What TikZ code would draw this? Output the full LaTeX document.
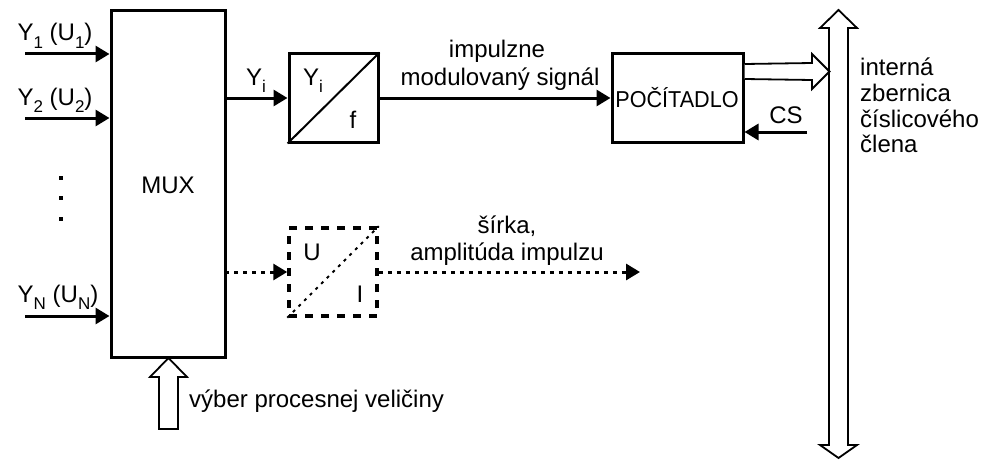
\documentclass[tikz,border=0pt]{standalone}
\usepackage{fontspec}
\setmainfont{Liberation Sans}
\usetikzlibrary{arrows.meta}
\newcommand{\sbs}[1]{\raisebox{-0.3em}{\fontsize{17}{17}\selectfont #1}}
\begin{document}
\begin{tikzpicture}[x=1pt,y=-1pt,
  lbl/.style={font=\fontsize{24}{26}\selectfont, inner sep=0pt, anchor=base},
  block/.style={draw, line width=3pt, inner sep=0pt, fill=white},
  sig/.style={line width=3pt, -{Triangle[length=14pt,width=16pt]}},
  dotsig/.style={line width=3pt, dash pattern=on 4pt off 5pt, -{Triangle[length=14pt,width=16pt]}},
  hollow/.style={draw, line width=1.8pt, fill=white, line join=miter}]

\useasboundingbox (0,0) rectangle (984,460);

% main blocks
\node[block, minimum width=114pt, minimum height=346pt] (mux) at (168,184) {};
\node[block, minimum width=89pt, minimum height=88pt] (conv) at (333.5,98) {};
\node[block, minimum width=131pt, minimum height=88pt] (cnt) at (677.5,98) {};
\node[draw, line width=3.5pt, dash pattern=on 8pt off 8pt, inner sep=0pt,
      minimum width=88pt, minimum height=88pt] (ui) at (333,272) {};

% diagonals inside converters
\draw[line width=2pt] (conv.south west) -- (conv.north east);
\draw[line width=2pt, dash pattern=on 3pt off 5pt] (ui.south west) -- (ui.north east);

% inputs of the multiplexer
\coordinate (in1) at (25,54);
\coordinate (in2) at (25,118);
\coordinate (inN) at (25,316);
\draw[sig] (in1) -- (in1 -| mux.west);
\draw[sig] (in2) -- (in2 -| mux.west);
\draw[sig] (inN) -- (inN -| mux.west);
\node[lbl] (t1) at (55,41) {Y\sbs{1} (U\sbs{1})};
\node[lbl] (t2) at (55,105) {Y\sbs{2} (U\sbs{2})};
\node[lbl] (tN) at (58,302) {Y\sbs{N} (U\sbs{N})};
\foreach \yy [count=\k] in {178,198,219}
  \fill (58.5,\yy-2) rectangle (62.5,\yy+2);

\node[lbl] (tmux) at (168,193) {MUX};

% signal path
\coordinate (yi) at (225,98);
\draw[sig] (yi) -- (conv.west);
\node[lbl] (tyi) at (256,85) {Y\sbs{i}};
\node[lbl] (tyi2) at (313,85) {Y\sbs{i}};
\node[lbl] (tf) at (353,128) {f};
\draw[sig] (conv.east) -- (cnt.west);
\node[lbl] (timp1) at (497,58) {impulzne};
\node[lbl] (timp2) at (500,85) {modulovaný signál};

\node[lbl, font=\fontsize{23}{25}\selectfont] (tcnt) at (677,107) {\scalebox{0.94}[1]{POČÍTADLO}};

\coordinate (cs) at (807,132);
\draw[sig] (cs) -- (cs -| cnt.east);
\node[lbl] (tcs) at (786,123) {CS};

% dotted path through the U/I converter
\coordinate (ud) at (225,272);
\coordinate (uout) at (640,272);
\draw[dotsig] (ud) -- (ui.west);
\draw[dotsig] (ui.east) -- (uout);
\node[lbl] (tU) at (312,260) {U};
\node[lbl] (tI) at (360,302) {I};
\node[lbl] (ts1) at (507,233) {šírka,};
\node[lbl] (ts2) at (507,260) {amplitúda impulzu};

% internal bus (double hollow arrow)
\draw[hollow] (838.5,10) -- (857,28) -- (848,28) -- (848,445) -- (857,445)
  -- (838.5,458) -- (820,445) -- (829,445) -- (829,28) -- (820,28) -- cycle;
\node[lbl, anchor=base west] (b1) at (860,75) {interná};
\node[lbl, anchor=base west] (b2) at (860,101) {zbernica};
\node[lbl, anchor=base west] (b3) at (860,127) {číslicového};
\node[lbl, anchor=base west] (b4) at (860,152) {člena};

% counter output to the bus
\draw[hollow] ([yshift=-1pt]cnt.east |- 0,63) -- (812,63) -- (812,54) -- (829.5,71.5)
  -- (812,89) -- (812,80) -- ([yshift=1pt]cnt.east |- 0,80);

% selection input of the multiplexer
\draw[hollow] (168.5,358) -- (187,377) -- (178,377) -- (178,429) -- (159,429)
  -- (159,377) -- (150,377) -- cycle;
\node[lbl, anchor=base west] (tsel) at (189,407) {výber procesnej veličiny};

\end{tikzpicture}
\end{document}
